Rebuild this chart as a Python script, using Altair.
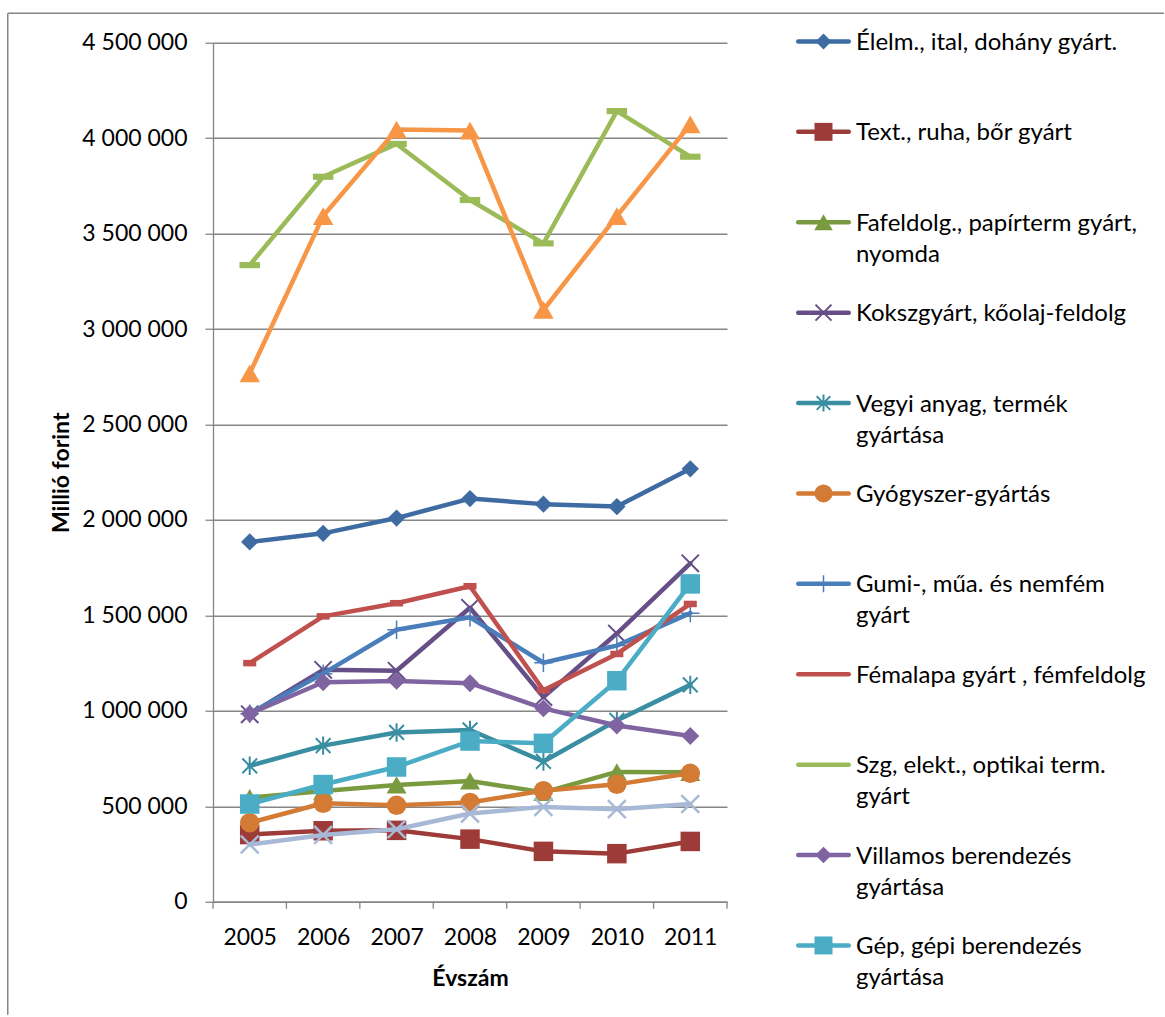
import altair as alt
import pandas as pd

# ---- data (million HUF) -------------------------------------------------
years = [2005, 2006, 2007, 2008, 2009, 2010, 2011]

elelm = [1885000, 1930000, 2010000, 2112000, 2083000, 2070000, 2268000]
textil = [352000, 372000, 374000, 328000, 264000, 252000, 316000]
fafeldolg = [545000, 580000, 612000, 633000, 573000, 680000, 678000]
koksz = [982000, 1215000, 1210000, 1540000, 1072000, 1405000, 1773000]
vegyi = [712000, 818000, 887000, 900000, 735000, 950000, 1136000]
gyogyszer = [414000, 516000, 505000, 520000, 582000, 615000, 673000]
gumi = [985000, 1195000, 1425000, 1490000, 1252000, 1342000, 1512000]
femalap = [1250000, 1495000, 1564000, 1653000, 1108000, 1298000, 1560000]
szg = [3335000, 3798000, 3970000, 3676000, 3449000, 4142000, 3903000]
villamos = [985000, 1150000, 1157000, 1145000, 1013000, 923000, 868000]
gep = [512000, 614000, 706000, 842000, 830000, 1158000, 1665000]
jarmu = [2768000, 3592000, 4045000, 4040000, 3100000, 3592000, 4072000]
egyeb = [300000, 350000, 380000, 462000, 497000, 485000, 512000]

series_names = [
    "Élelm., ital, dohány gyárt.",
    "Text., ruha, bőr gyárt",
    "Fafeldolg., papírterm gyárt, nyomda",
    "Kokszgyárt, kőolaj-feldolg",
    "Vegyi anyag, termék gyártása",
    "Gyógyszer-gyártás",
    "Gumi-, műa. és nemfém gyárt",
    "Fémalapa gyárt , fémfeldolg",
    "Szg, elekt., optikai term. gyárt",
    "Villamos berendezés gyártása",
    "Gép, gépi berendezés gyártása",
    "Járműgyártás",
    "Egyéb feldolgozóipar",
]
series_values = [elelm, textil, fafeldolg, koksz, vegyi, gyogyszer, gumi,
                 femalap, szg, villamos, gep, jarmu, egyeb]

legend_labels = [
    "Élelm., ital, dohány gyárt.",
    "Text., ruha, bőr gyárt",
    "Fafeldolg., papírterm gyárt,\nnyomda",
    "Kokszgyárt, kőolaj-feldolg",
    "Vegyi anyag, termék\ngyártása",
    "Gyógyszer-gyártás",
    "Gumi-, műa. és nemfém\ngyárt",
    "Fémalapa gyárt , fémfeldolg",
    "Szg, elekt., optikai term.\ngyárt",
    "Villamos berendezés\ngyártása",
    "Gép, gépi berendezés\ngyártása",
]

y_ticks = [0, 500000, 1000000, 1500000, 2000000, 2500000, 3000000,
           3500000, 4000000, 4500000]

# ---- styling -------------------------------------------------------------
colors = ["#3D6BA2", "#9D3B38", "#7A9A3F", "#664E86", "#3A8EA2", "#D37B35",
          "#4A7EBB", "#C0504D", "#9BBB59", "#8064A2", "#4BACC6", "#F79646",
          "#A8B9D7"]

X_PATH = "M-1,-1L1,1M-1,1L1,-1"
STAR_PATH = "M0,-1V1M-0.8,-0.8L0.8,0.8M-0.8,0.8L0.8,-0.8"
PLUS_PATH = "M-1,0H1M0,-1V1"
DASH_SHORT = "M-1,-0.5H1V0.5H-1Z"
DASH_LONG = "M-1,-0.3H1V0.3H-1Z"

shapes = ["diamond", "square", "triangle-up", X_PATH, STAR_PATH, "circle",
          PLUS_PATH, DASH_SHORT, DASH_LONG, "diamond", "square",
          "triangle-up", X_PATH]
sizes = [300, 380, 400, 300, 340, 380, 340, 170, 420, 320, 380, 420, 320]
filled = [True, True, True, False, False, True, False, True, True, True,
          True, True, False]
stroke_w = [1, 1, 1, 2, 2, 1, 1.5, 1, 1, 1, 1, 1, 2.5]

GREY = "#868686"
FONT = "Lato"
FS = 23

# ---- main plot -------------------------------------------------------------
x_scale = alt.Scale(domain=[2004.5, 2011.5], nice=False, zero=False)
y_scale = alt.Scale(domain=[0, 4500000], nice=False)

x_axis = alt.Axis(
    values=years, format="d", title="Évszám", grid=False, ticks=False,
    tickSize=0, domainColor=GREY, domainWidth=1.3, labelFont=FONT,
    labelFontSize=FS, labelColor="black", labelBaseline="alphabetic",
    labelPadding=42.5, labelFlush=False, labelOverlap=False,
    titleFont=FONT, titleFontSize=FS, titleFontWeight="bold",
    titleColor="black", titleX=257, titleY=84, titleBaseline="alphabetic",
    titleAlign="center",
)
y_axis = alt.Axis(
    values=y_ticks,
    labelExpr="replace(format(datum.value, ','), regexp(',', 'g'), ' ')",
    title="Millió forint", grid=True, gridColor=GREY, gridWidth=1.3,
    tickColor=GREY, tickSize=8, tickWidth=1.3, domainColor=GREY,
    domainWidth=1.3, labelPadding=18, labelFont=FONT, labelFontSize=FS,
    labelColor="black", labelOverlap=False,
    titleFont=FONT, titleFontSize=FS, titleFontWeight="bold",
    titleColor="black", titleX=-145, titleY=429.5, titleAngle=270,
    titleBaseline="alphabetic", titleAlign="center",
)

color = alt.Color("series:N",
                  scale=alt.Scale(domain=series_names, range=colors),
                  legend=None)
X = alt.X("year:Q", scale=x_scale, axis=x_axis)
Y = alt.Y("value:Q", scale=y_scale, axis=y_axis)

layers = []

# category boundary ticks under the x axis
bounds_df = pd.DataFrame({"year": [y - 0.5 for y in years] + [years[-1] + 0.5]})
layers.append(
    alt.Chart(bounds_df).mark_rule(color=GREY, strokeWidth=1.3).encode(
        x=X, y=alt.value(859), y2=alt.value(866))
)

for i, name in enumerate(series_names):
    sdf = pd.DataFrame({"year": years, "value": series_values[i],
                        "series": name})
    base = alt.Chart(sdf)
    layers.append(
        base.mark_line(strokeWidth=4.5, strokeCap="round",
                       strokeJoin="round").encode(x=X, y=Y, color=color)
    )
    pt = dict(shape=shapes[i], size=sizes[i], filled=filled[i], opacity=1)
    if not filled[i]:
        pt["strokeWidth"] = stroke_w[i]
    layers.append(base.mark_point(**pt).encode(x=X, y=Y, color=color))

# outer frame of the chart area
one = pd.DataFrame({"k": [0]})
layers.append(
    alt.Chart(one).mark_rule(color=GREY, strokeWidth=1.5).encode(
        x=alt.value(-205.25), y=alt.value(-29.5), y2=alt.value(972))
)
layers.append(
    alt.Chart(one).mark_rule(color=GREY, strokeWidth=1.5).encode(
        x=alt.value(-205.25), x2=alt.value(951), y=alt.value(-29.5))
)

main = alt.layer(*layers).properties(width=514, height=859)

# ---- legend ----------------------------------------------------------------
leg_df = pd.DataFrame({"series": series_names[:11], "label": legend_labels,
                       "idx": list(range(11))})
LY = alt.Y("idx:Q", scale=alt.Scale(domain=[0, 10], range=[-1.3, 902.7]),
           axis=None)

leg_layers = [
    alt.Chart(leg_df).mark_rule(strokeWidth=4.5, strokeCap="round").encode(
        x=alt.value(2.25), x2=alt.value(52.75), y=LY, color=color),
    alt.Chart(leg_df).mark_text(
        align="left", baseline="alphabetic", dy=8.5, lineBreak="\n",
        lineHeight=31, font=FONT, fontSize=24, color="black").encode(
        x=alt.value(60), y=LY, text="label:N"),
]
for i in range(11):
    # dash markers vanish into the legend line sample
    if shapes[i] in (DASH_SHORT, DASH_LONG):
        continue
    pt = dict(shape=shapes[i], size=sizes[i] * 0.85, filled=filled[i],
              opacity=1)
    if not filled[i]:
        pt["strokeWidth"] = stroke_w[i]
    leg_layers.append(
        alt.Chart(leg_df.iloc[[i]]).mark_point(**pt).encode(
            x=alt.value(27.5), y=LY, color=color)
    )

legend = alt.layer(*leg_layers).properties(width=364, height=859)

chart = (
    alt.hconcat(main, legend, spacing=69, bounds="flush")
    .configure(background="white",
               padding={"left": 7, "top": 11.75, "right": 0, "bottom": 0})
    .configure_view(stroke=None)
)

chart.save("out.html", embed_options={"renderer": "svg", "actions": False})
